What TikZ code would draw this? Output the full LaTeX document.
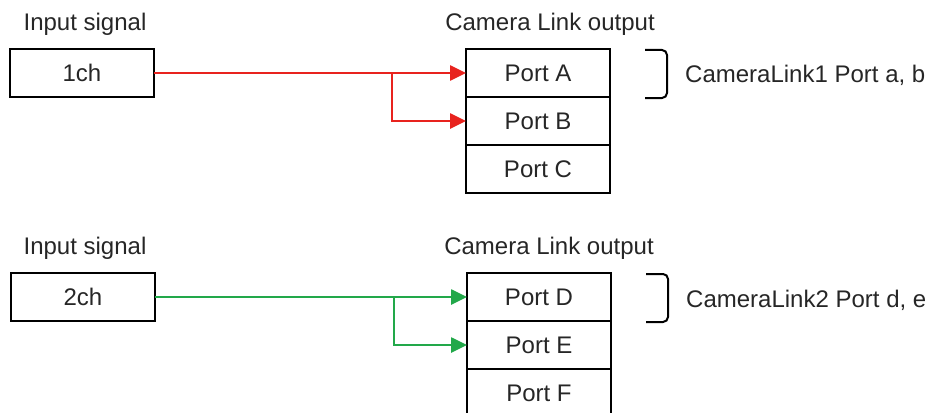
\documentclass[tikz,border=0pt]{standalone}
\usepackage{fontspec}
\setmainfont{Liberation Sans}
\usetikzlibrary{arrows.meta}
\definecolor{sigred}{HTML}{E8231E}
\definecolor{siggreen}{HTML}{22A84A}
\begin{document}
\begin{tikzpicture}[x=1pt,y=-1pt,
  txt/.style={font=\fontsize{24}{27}\selectfont, text=black!85, inner sep=0pt},
  box/.style={draw=black, line width=2.4pt, minimum width=144pt, minimum height=48pt,
    inner sep=0pt, outer sep=0pt, font=\fontsize{24}{27}\selectfont, text=black!85},
  sig/.style={line width=2.6pt, -{Triangle[length=16pt,width=15pt]}},
  brace/.style={line width=2pt, rounded corners=5pt}]
\useasboundingbox (0,0) rectangle (931,412);

% ---- channel 1 ----
\node[txt] (lin1) at (85,24) {Input signal};
\node[box] (in1) at (82,73) {1ch};
\node[txt] (lout1) at (550,24) {Camera Link output};
\node[box] (pa) at (538,73) {Port A};
\node[box] (pb) at (538,121) {Port B};
\node[box] (pc) at (538,169) {Port C};
\coordinate (j1) at (392,73);
\draw[sig, draw=sigred] (in1.east) -- (pa.west);
\draw[sig, draw=sigred] (j1) |- (pb.west);
\draw[brace] (645,50) -- (667,50) -- (667,98) -- (645,98);
\node[txt, anchor=west] (cl1) at (685,75) {CameraLink1 Port a, b};

% ---- channel 2 ----
\node[txt] (lin2) at (85,248) {Input signal};
\node[box] (in2) at (83,297) {2ch};
\node[txt] (lout2) at (549,248) {Camera Link output};
\node[box] (pd) at (539,297) {Port D};
\node[box] (pe) at (539,345) {Port E};
\node[box] (pf) at (539,393) {Port F};
\coordinate (j2) at (394,297);
\draw[sig, draw=siggreen] (in2.east) -- (pd.west);
\draw[sig, draw=siggreen] (j2) |- (pe.west);
\draw[brace] (646,274) -- (668,274) -- (668,322) -- (646,322);
\node[txt, anchor=west] (cl2) at (686,300) {CameraLink2 Port d, e};
\end{tikzpicture}
\end{document}
